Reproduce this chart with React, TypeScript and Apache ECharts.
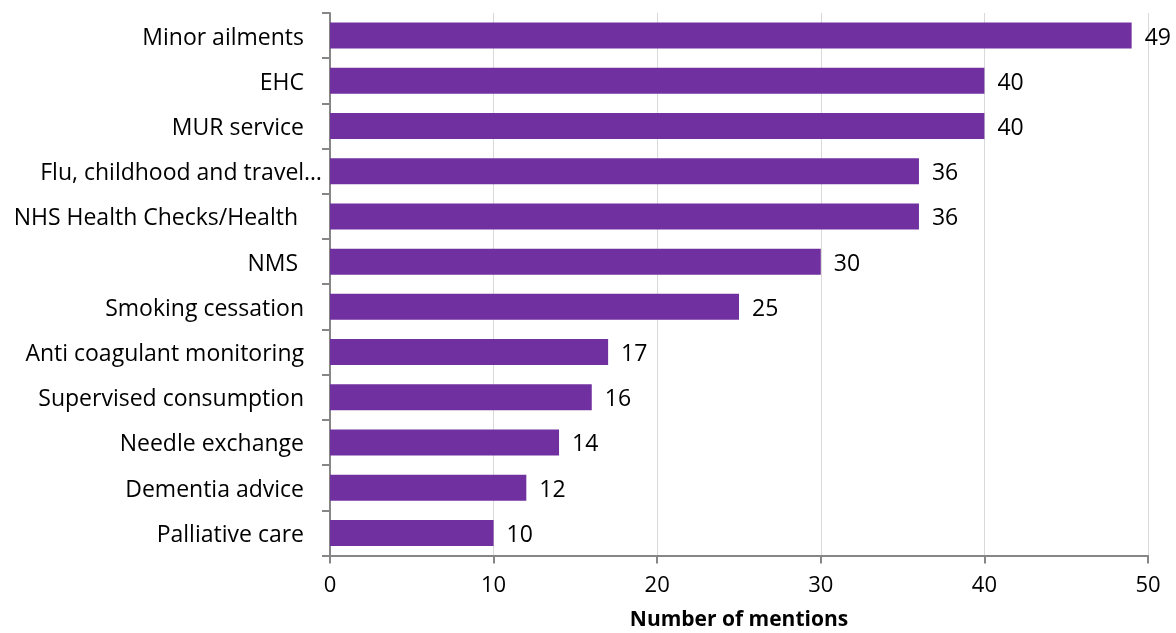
import React, { useEffect, useRef } from "react";
import * as echarts from "echarts";

const categories = [
  "Minor ailments",
  "EHC",
  "MUR service",
  "Flu, childhood and travel…",
  "NHS Health Checks/Health ",
  "NMS ",
  "Smoking cessation",
  "Anti coagulant monitoring",
  "Supervised consumption",
  "Needle exchange",
  "Dementia advice",
  "Palliative care",
];
const mentions = [49, 40, 40, 36, 36, 30, 25, 17, 16, 14, 12, 10];
const xTicks = { min: 0, max: 50, interval: 10 };

const FONT = "'Open Sans', sans-serif";
const FS = 23;

export default function App() {
  const ref = useRef<HTMLDivElement>(null);
  useEffect(() => {
    if (!ref.current) return;
    const chart = echarts.init(ref.current, null, { renderer: "svg" });
    chart.setOption({
      animation: false,
      textStyle: { fontFamily: FONT },
      grid: { left: 330, right: 28, top: 13, bottom: 77, containLabel: false },
      xAxis: {
        type: "value",
        min: xTicks.min,
        max: xTicks.max,
        interval: xTicks.interval,
        name: "Number of mentions",
        nameLocation: "middle",
        nameGap: 52,
        nameTextStyle: {
          fontSize: 21,
          lineHeight: 20,
          fontWeight: "bold",
          color: "#000",
          fontFamily: FONT,
        },
        axisLine: { show: true, lineStyle: { color: "#868686", width: 2 } },
        axisTick: { show: true, length: 8, lineStyle: { color: "#868686", width: 2 } },
        axisLabel: { fontSize: 22, lineHeight: 20, color: "#000", margin: 17, fontFamily: FONT },
        splitLine: { show: true, lineStyle: { color: "#d9d9d9", width: 1 } },
      },
      yAxis: {
        type: "category",
        data: categories,
        inverse: true,
        axisLine: { show: true, lineStyle: { color: "#868686", width: 2 } },
        axisTick: { show: true, length: 8, lineStyle: { color: "#868686", width: 2 } },
        axisLabel: {
          fontSize: FS,
          color: "#000",
          margin: 8,
          fontFamily: FONT,
          formatter: (v: string) => {
            if (v.endsWith("…")) return `{f|${v}}`;
            if (v.endsWith(" ")) return `{s|${v.trim()}}`;
            return `{n|${v}}`;
          },
          rich: {
            n: { fontSize: FS, color: "#000", fontFamily: FONT, padding: [0, 18, 0, 0] },
            s: { fontSize: FS, color: "#000", fontFamily: FONT, padding: [0, 24, 0, 0] },
            f: { fontSize: FS, color: "#000", fontFamily: FONT, padding: [0, 0, 0, 0] },
          },
        },
        splitLine: { show: false },
      },
      series: [
        {
          type: "bar",
          data: mentions,
          barWidth: 26,
          itemStyle: { color: "#7030A0" },
          label: {
            show: true,
            position: "right",
            distance: 13,
            fontSize: FS,
            color: "#000",
            fontFamily: FONT,
          },
        },
      ],
    });
    return () => chart.dispose();
  }, []);
  return (
    <div
      ref={ref}
      style={{ position: "fixed", left: 0, top: 0, width: 1176, height: 633 }}
    />
  );
}
